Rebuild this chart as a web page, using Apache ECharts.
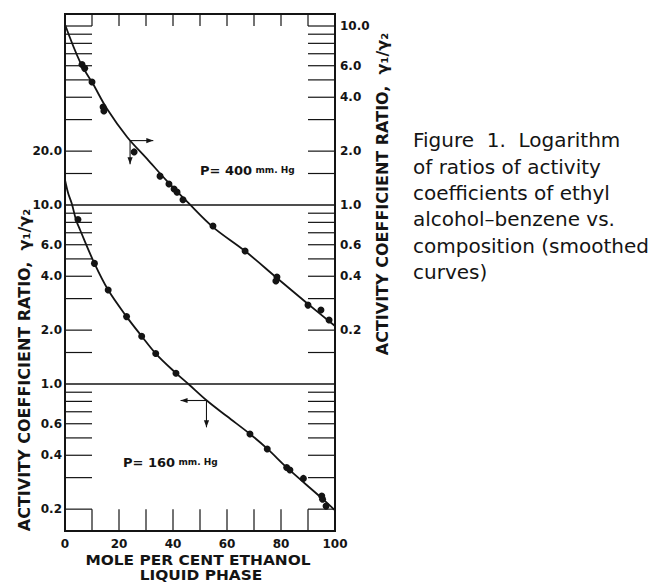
<!DOCTYPE html>
<html>
<head>
<meta charset="utf-8">
<script src="https://cdn.jsdelivr.net/npm/echarts@6/dist/echarts.min.js"></script>
<style>
  html, body { margin: 0; padding: 0; background: #ffffff; }
  #chart { width: 652px; height: 583px; }
</style>
</head>
<body>
<div id="chart"></div>
<script>
// ---- Scale labels ----
const xTickLabels = [0, 20, 40, 60, 80, 100];
const leftTickLabels = [0.2, 0.4, 0.6, 1.0, 2.0, 4.0, 6.0, 10.0, 20.0];
const rightTickLabels = [0.2, 0.4, 0.6, 1.0, 2.0, 4.0, 6.0, 10.0];

// ---- P = 400 mm Hg, read on the right-hand scale ----
const upperPtsX = [6.3, 7.3, 10.0, 14.1, 14.4, 25.6, 35.2, 38.5, 40.4, 41.5, 43.7, 54.8, 66.7, 78.5, 78.1, 90.0, 94.8, 97.8];
const upperPtsY = [6.1, 5.8, 4.87, 3.53, 3.35, 1.98, 1.45, 1.31, 1.23, 1.18, 1.07, 0.763, 0.553, 0.396, 0.376, 0.276, 0.259, 0.228];
const upperCurveX = [0, 5.6, 10.4, 15.6, 23.0, 30.4, 37.8, 45.6, 54.8, 66.7, 78.5, 90.0, 100];
const upperCurveY = [10.2, 6.29, 4.74, 3.44, 2.40, 1.81, 1.36, 1.03, 0.753, 0.553, 0.391, 0.28, 0.211];

// ---- P = 160 mm Hg, read on the left-hand scale ----
const lowerPtsX = [4.8, 10.9, 16.0, 22.8, 28.4, 33.6, 41.1, 68.5, 74.9, 82.1, 83.3, 88.3, 95.1, 95.4, 96.7];
const lowerPtsY = [8.3, 4.72, 3.35, 2.38, 1.85, 1.48, 1.15, 0.526, 0.434, 0.342, 0.331, 0.297, 0.237, 0.227, 0.208];
const lowerCurveX = [0, 1.2, 2.5, 4.1, 5.6, 10.9, 16.0, 22.8, 28.4, 33.6, 41.1, 45.7, 52.5, 60, 68.5, 75, 82.1, 95, 100];
const lowerCurveY = [13.8, 11.6, 10.2, 8.25, 7.25, 4.72, 3.35, 2.38, 1.85, 1.48, 1.15, 1.0, 0.809, 0.66, 0.526, 0.434, 0.342, 0.231, 0.197];

// ---- Log-paper rulings (left-hand values) ----
const edgeRulings = [0.2, 0.3, 0.4, 0.5, 0.6, 0.7, 0.8, 0.9, 1.5, 2, 3, 4, 5, 6, 7, 8, 9, 15, 20, 30, 40, 50, 60, 70, 80, 90, 100];
const fullRulings = [1, 10];
const xRulings = [10, 20, 30, 40, 50, 60, 70, 80, 90];

// ---- Pointer arrows: [corner x, corner y, horizontal tip x, vertical tip y] ----
const upperArrow = [[24.1, 2.29, 32.7, 1.69]];
const lowerArrow = [[52.4, 0.809, 42.8, 0.573]];

// Axis limits; the right-hand scale reads the left-hand value divided by ten
const LEFT_MIN = 0.151, LEFT_MAX = 116.7;
const RIGHT_FACTOR = 10;
const RULE_LEN = 10;          // short rulings run 10 mole-% in from each side
const TOP_RULE = 100, BOTTOM_RULE = 0.2;

const INK = '#141414';
const FONT = 'DejaVu Sans';
const zip = (xs, ys) => xs.map((x, i) => [x, ys[i]]);

function seg(p, q, w) {
  return { type: 'line', shape: { x1: p[0], y1: p[1], x2: q[0], y2: q[1] }, style: { stroke: INK, lineWidth: w } };
}
function arrowHead(tip, dir) {
  const L = 7, W = 2.6;
  const bx = tip[0] - dir[0] * L, by = tip[1] - dir[1] * L;
  const px = -dir[1], py = dir[0];
  return { type: 'polygon', shape: { points: [tip, [bx + px * W, by + py * W], [bx - px * W, by - py * W]] }, style: { fill: INK } };
}
function renderArrow(params, api) {
  const corner = api.coord([api.value(0), api.value(1)]);
  const hTip = api.coord([api.value(2), api.value(1)]);
  const vTip = api.coord([api.value(0), api.value(3)]);
  const hd = Math.sign(hTip[0] - corner[0]);
  return { type: 'group', children: [
    seg(corner, hTip, 1.1), seg(corner, vTip, 1.1),
    arrowHead(hTip, [hd, 0]), arrowHead(vTip, [0, 1])
  ] };
}

const labelStyle = { fontFamily: FONT, fontWeight: 'bold', fontSize: 12, color: INK };
const hiddenAxisParts = { axisLine: { show: false }, axisTick: { show: false }, splitLine: { show: false } };

const chart = echarts.init(document.getElementById('chart'), null, { renderer: 'svg' });
chart.setOption({
  animation: false,
  backgroundColor: '#ffffff',
  grid: { left: 65, top: 14, width: 270, height: 517, show: true, borderColor: INK, borderWidth: 2,
          backgroundColor: 'transparent', outerBoundsMode: 'none' },
  xAxis: Object.assign({
    type: 'value', min: 0, max: 100, interval: 20,
    axisLabel: Object.assign({ margin: 7, customValues: xTickLabels }, labelStyle)
  }, hiddenAxisParts),
  yAxis: [
    Object.assign({
      type: 'log', min: LEFT_MIN, max: LEFT_MAX, position: 'left',
      axisLabel: Object.assign({ margin: 3, customValues: leftTickLabels, formatter: v => Number(v).toFixed(1) }, labelStyle)
    }, hiddenAxisParts),
    Object.assign({
      type: 'log', min: LEFT_MIN / RIGHT_FACTOR, max: LEFT_MAX / RIGHT_FACTOR, position: 'right',
      axisLabel: Object.assign({ margin: 5, customValues: rightTickLabels, formatter: v => Number(v).toFixed(1) }, labelStyle)
    }, hiddenAxisParts)
  ],
  series: [
    {
      type: 'custom', name: 'edge rulings', silent: true, z: 1,
      data: edgeRulings.map(v => [0, v]),
      renderItem: (params, api) => {
        const v = api.value(1);
        return { type: 'group', children: [
          seg(api.coord([0, v]), api.coord([RULE_LEN, v]), 1.2),
          seg(api.coord([100 - RULE_LEN, v]), api.coord([100, v]), 1.2)
        ] };
      }
    },
    {
      type: 'custom', name: 'full rulings', silent: true, z: 1,
      data: fullRulings.map(v => [0, v]),
      renderItem: (params, api) => {
        const v = api.value(1);
        return seg(api.coord([0, v]), api.coord([100, v]), 1.4);
      }
    },
    {
      type: 'custom', name: 'x rulings', silent: true, z: 1,
      data: xRulings.map(x => [x, 1]),
      renderItem: (params, api) => {
        const x = api.value(0);
        return { type: 'group', children: [
          seg(api.coord([x, LEFT_MAX]), api.coord([x, TOP_RULE]), 1.2),
          seg(api.coord([x, LEFT_MIN]), api.coord([x, BOTTOM_RULE]), 1.2)
        ] };
      }
    },
    {
      type: 'line', name: 'P = 400 mm Hg', yAxisIndex: 1, z: 3,
      data: zip(upperCurveX, upperCurveY), smooth: 0.35, showSymbol: false, symbol: 'none',
      lineStyle: { color: INK, width: 1.8 }
    },
    {
      type: 'scatter', name: 'P = 400 mm Hg data', yAxisIndex: 1, z: 4,
      data: zip(upperPtsX, upperPtsY), symbolSize: 7, itemStyle: { color: INK, opacity: 1 }
    },
    {
      type: 'line', name: 'P = 160 mm Hg', yAxisIndex: 0, z: 3,
      data: zip(lowerCurveX, lowerCurveY), smooth: 0.35, showSymbol: false, symbol: 'none',
      lineStyle: { color: INK, width: 1.8 }
    },
    {
      type: 'scatter', name: 'P = 160 mm Hg data', yAxisIndex: 0, z: 4,
      data: zip(lowerPtsX, lowerPtsY), symbolSize: 7, itemStyle: { color: INK, opacity: 1 }
    },
    { type: 'custom', name: 'upper pointer', yAxisIndex: 1, silent: true, z: 2, data: upperArrow, renderItem: renderArrow },
    { type: 'custom', name: 'lower pointer', yAxisIndex: 0, silent: true, z: 2, data: lowerArrow, renderItem: renderArrow }
  ],
  graphic: [
    { type: 'text', x: 24, y: 370, rotation: Math.PI / 2,
      style: { text: 'ACTIVITY COEFFICIENT RATIO,  γ₁/γ₂', font: 'bold 16px "DejaVu Sans"', fill: INK, align: 'center', verticalAlign: 'middle' } },
    { type: 'text', x: 382, y: 194, rotation: Math.PI / 2,
      style: { text: 'ACTIVITY COEFFICIENT RATIO,  γ₁/γ₂', font: 'bold 16px "DejaVu Sans"', fill: INK, align: 'center', verticalAlign: 'middle' } },
    { type: 'text', x: 198, y: 560, scaleX: 1.1,
      style: { text: 'MOLE PER CENT ETHANOL', font: 'bold 14px "DejaVu Sans"', fill: INK, align: 'center', verticalAlign: 'middle' } },
    { type: 'text', x: 201, y: 575, scaleX: 1.1,
      style: { text: 'LIQUID PHASE', font: 'bold 14px "DejaVu Sans"', fill: INK, align: 'center', verticalAlign: 'middle' } },
    { type: 'text', x: 200, y: 170,
      style: { text: '{a|P= 400} {b|mm. Hg}', verticalAlign: 'middle', fill: INK,
               rich: { a: { fontFamily: FONT, fontWeight: 'bold', fontSize: 13, fill: INK },
                       b: { fontFamily: FONT, fontWeight: 'bold', fontSize: 9, fill: INK } } } },
    { type: 'text', x: 123, y: 462,
      style: { text: '{a|P= 160} {b|mm. Hg}', verticalAlign: 'middle', fill: INK,
               rich: { a: { fontFamily: FONT, fontWeight: 'bold', fontSize: 13, fill: INK },
                       b: { fontFamily: FONT, fontWeight: 'bold', fontSize: 9, fill: INK } } } },
    { type: 'text', x: 413, y: 127,
      style: { text: 'Figure  1.  Logarithm\nof ratios of activity\ncoefficients of ethyl\nalcohol–benzene vs.\ncomposition (smoothed\ncurves)',
               font: '20px "DejaVu Sans"', lineHeight: 26.4, fill: INK, align: 'left', verticalAlign: 'top' } }
  ]
});
</script>
</body>
</html>
